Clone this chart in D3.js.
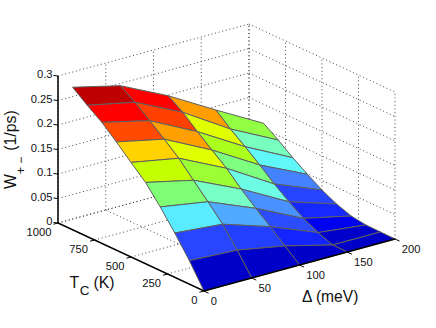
<!DOCTYPE html>
<html>
<head>
<meta charset="utf-8">
<script src="https://cdn.jsdelivr.net/npm/d3@7"></script>
<style>
  html, body { margin: 0; padding: 0; background: #fff; }
  svg { display: block; }
  text { font-family: "Liberation Sans", Arial, sans-serif; fill: #111; }
</style>
</head>
<body>
<svg id="chart" width="436" height="328"></svg>
<script>
const deltaValues = [0, 50, 100, 150, 200];
const tempValues = [0, 100, 200, 300, 400, 500, 600, 700, 800, 900];

// W(+-) per temperature, one value for each entry of deltaValues
const w0 = [0, 0, 0, 0, 0];
const w100 = [0.048, 0.043, 0.025, 0.0005, 0.0005];
const w200 = [0.0906, 0.082, 0.0504, 0.012, 0.001];
const w300 = [0.130, 0.114, 0.074, 0.027, 0.0053];
const w400 = [0.166, 0.144, 0.0996, 0.047, 0.0159];
const w500 = [0.193, 0.175, 0.128, 0.0694, 0.0306];
const w600 = [0.221, 0.200, 0.1514, 0.0943, 0.0488];
const w700 = [0.247, 0.224, 0.175, 0.1178, 0.0688];
const w800 = [0.268, 0.2476, 0.2006, 0.140, 0.091];
const w900 = [0.291, 0.2676, 0.2206, 0.1649, 0.1112];
const surface = [w0, w100, w200, w300, w400, w500, w600, w700, w800, w900];

const zTicks = [0, 0.05, 0.1, 0.15, 0.2, 0.25, 0.3];
const zTickLabels = ["0", "0.05", "0.1", "0.15", "0.2", "0.25", "0.3"];
const deltaTicks = [0, 50, 100, 150, 200];
const tempTicks = [0, 250, 500, 750, 1000];

const colorDomain = [0, 0.012, 0.026, 0.048, 0.071, 0.082, 0.092, 0.105, 0.118, 0.129, 0.142, 0.151, 0.166, 0.175, 0.193, 0.2, 0.222, 0.247, 0.268];
const colorRange = ["#0000c8", "#0000f0", "#1428ff", "#2846ff", "#4687ff", "#50aaff", "#5af5ff", "#78ffd2", "#78ffc0", "#7dff78", "#96ff3c", "#aaff1e", "#c3ff00", "#e0ff00", "#ffd200", "#ffa000", "#ff4600", "#ff0000", "#be0000"];

const svg = d3.select("#chart");

// oblique projection: each data axis moves the point along its own screen direction
const dx = d3.scaleLinear().domain([0, 200]).range([0, 191]);
const dy = d3.scaleLinear().domain([0, 200]).range([0, -52]);
const tx = d3.scaleLinear().domain([0, 1000]).range([0, -146]);
const ty = d3.scaleLinear().domain([0, 1000]).range([0, -68]);
const zy = d3.scaleLinear().domain([0, 0.3]).range([0, -147]);
const color = d3.scaleLinear().domain(colorDomain).range(colorRange).clamp(true);

const ox = 204, oy = 291;
const project = (d, t, z) => [ox + dx(d) + tx(t), oy + dy(d) + ty(t) + zy(z)];
const line = d3.line();

// dotted box grid
const grid = svg.append("g")
  .attr("fill", "none")
  .attr("stroke", "#444")
  .attr("stroke-width", 1)
  .attr("stroke-dasharray", "1 2.7");

const addGrid = (a, b) => grid.append("path").attr("d", line([a, b]));

zTicks.forEach(z => {
  addGrid(project(0, 1000, z), project(200, 1000, z));
  addGrid(project(200, 1000, z), project(200, 0, z));
});
deltaTicks.forEach(d => {
  addGrid(project(d, 1000, 0), project(d, 1000, 0.3));
  addGrid(project(d, 0, 0), project(d, 1000, 0));
});
tempTicks.forEach(t => {
  addGrid(project(200, t, 0), project(200, t, 0.3));
  addGrid(project(0, t, 0), project(200, t, 0));
});

// surface patches, far corner first; each patch takes the colour of its low T, low delta vertex
const patches = svg.append("g")
  .attr("stroke", "#5f5f5f")
  .attr("stroke-width", 1)
  .attr("stroke-linejoin", "round");

for (let i = tempValues.length - 2; i >= 0; i--) {
  for (let j = deltaValues.length - 2; j >= 0; j--) {
    const corners = [
      project(deltaValues[j], tempValues[i], surface[i][j]),
      project(deltaValues[j + 1], tempValues[i], surface[i][j + 1]),
      project(deltaValues[j + 1], tempValues[i + 1], surface[i + 1][j + 1]),
      project(deltaValues[j], tempValues[i + 1], surface[i + 1][j])
    ];
    patches.append("path")
      .attr("d", line(corners) + "Z")
      .attr("fill", color(surface[i][j]));
  }
}

// axes
const axes = svg.append("g")
  .attr("fill", "none")
  .attr("stroke", "#000")
  .attr("stroke-width", 1.5);

axes.append("path").attr("d", line([project(0, 1000, 0.3), project(0, 1000, 0), project(0, 0, 0), project(200, 0, 0)]));

const ticks = svg.append("g")
  .attr("fill", "none")
  .attr("stroke", "#000")
  .attr("stroke-width", 1);

zTicks.forEach(z => {
  const [x, y] = project(0, 1000, z);
  ticks.append("path").attr("d", line([[x, y], [x - 4.5, y - 0.5]]));
});
tempTicks.forEach(t => {
  const [x, y] = project(0, t, 0);
  ticks.append("path").attr("d", line([[x, y], [x - 4.5, y + 1.2]]));
});
deltaTicks.forEach(d => {
  const [x, y] = project(d, 0, 0);
  ticks.append("path").attr("d", line([[x, y], [x + 4.5, y + 2.1]]));
});

// tick labels
const labels = svg.append("g").attr("font-size", 11.2);

zTicks.forEach((z, i) => {
  const [x, y] = project(0, 1000, z);
  labels.append("text")
    .attr("x", x - 5.5)
    .attr("y", y + 2)
    .attr("text-anchor", "end")
    .text(zTickLabels[i]);
});
tempTicks.forEach(t => {
  const [x, y] = project(0, t, 0);
  labels.append("text")
    .attr("x", x - 6.6)
    .attr("y", y + 13.2)
    .attr("text-anchor", "end")
    .text(t);
});
deltaTicks.forEach(d => {
  const [x, y] = project(d, 0, 0);
  labels.append("text")
    .attr("x", x + 6.8)
    .attr("y", y + 13.8)
    .text(d);
});

// axis titles
svg.append("text")
  .attr("transform", "translate(16,189) rotate(-90)")
  .attr("font-size", 15.8)
  .call(t => {
    t.append("tspan").text("W");
    t.append("tspan").attr("font-size", 12).attr("dy", 8.5).text("+ −");
    t.append("tspan").attr("dy", -8.5).attr("dx", 6).text("(1/ps)");
  });

svg.append("text")
  .attr("x", 69.5)
  .attr("y", 288)
  .attr("font-size", 15.8)
  .call(t => {
    t.append("tspan").text("T");
    t.append("tspan").attr("font-size", 13.5).attr("dy", 7).attr("dx", 0.5).text("C");
    t.append("tspan").attr("dy", -7).attr("dx", 4).text("(K)");
  });

svg.append("text")
  .attr("x", 302)
  .attr("y", 302.3)
  .attr("font-size", 15.6)
  .text("Δ (meV)");
</script>
</body>
</html>
